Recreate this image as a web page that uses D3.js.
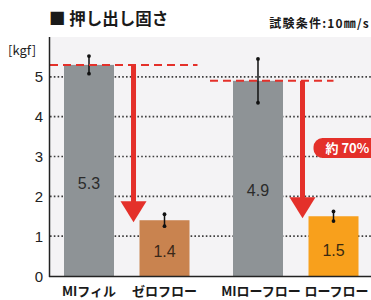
<!DOCTYPE html>
<html>
<head>
<meta charset="utf-8">
<script src="https://cdn.jsdelivr.net/npm/d3@7"></script>
<style>
  body { margin: 0; background: #fff; }
  svg { display: block; }
  text { font-family: "Noto Sans CJK JP", "Noto Sans", sans-serif; }
  .num { font-family: "Liberation Sans", Arial, sans-serif; }
</style>
</head>
<body>
<script>
const w = 371;
const h = 300;

// data
const groups = ['MI', 'Low'];
const categories = ['MIフィル', 'ゼロフロー', 'MIローフロー', 'ローフロー'];
const groupOf = [0, 0, 1, 1];
const values = [5.3, 1.4, 4.9, 1.5];
const errors = [0.22, 0.15, 0.55, 0.12];
const colors = ['#8e9396', '#c9834f', '#8e9396', '#f8a01c'];
const labelColors = ['#2b2b2b', '#3a2818', '#2b2b2b', '#3a2a10'];
const yTicks = [0, 1, 2, 3, 4, 5];
const gridTicks = [1, 2, 3, 4, 5];
const reduction = '約 70%';

const plotLeft = 50, plotTop = 37, plotBottom = 276;

const svg = d3.select('body').append('svg')
              .attr('width', w)
              .attr('height', h);

const yScale = d3.scaleLinear()
                 .domain([0, 6])
                 .range([plotBottom, plotTop]);

const xGroup = d3.scaleBand()
                 .domain(groups)
                 .range([42.25, 380.25]);

const xInner = d3.scaleBand()
                 .domain([0, 1])
                 .range([0, xGroup.bandwidth()])
                 .paddingInner(0.338)
                 .paddingOuter(0.288);

const barX = i => xGroup(groups[groupOf[i]]) + xInner(i % 2);
const barW = xInner.bandwidth();

// plot background
svg.append('rect')
   .attr('x', plotLeft)
   .attr('y', plotTop)
   .attr('width', w - plotLeft)
   .attr('height', plotBottom - plotTop)
   .attr('fill', '#f4f3f5');

// dotted grid
svg.append('g')
   .selectAll('line')
   .data(gridTicks)
   .enter()
   .append('line')
   .attr('x1', plotLeft)
   .attr('x2', w)
   .attr('y1', d => yScale(d))
   .attr('y2', d => yScale(d))
   .attr('stroke', '#3e3e3e')
   .attr('stroke-width', 1.6)
   .attr('stroke-dasharray', '1.6,2.2');

// bars
svg.append('g')
   .selectAll('rect')
   .data(values)
   .enter()
   .append('rect')
   .attr('x', (d, i) => barX(i))
   .attr('y', d => yScale(d))
   .attr('width', barW)
   .attr('height', d => plotBottom - yScale(d))
   .attr('fill', (d, i) => colors[i]);

// value labels in bars
svg.append('g')
   .selectAll('text')
   .data(values)
   .enter()
   .append('text')
   .attr('class', 'num')
   .attr('x', (d, i) => barX(i) + barW / 2)
   .attr('y', d => yScale(d) + (plotBottom - yScale(d)) * 0.56 + 6)
   .attr('text-anchor', 'middle')
   .attr('font-size', 16)
   .attr('fill', (d, i) => labelColors[i])
   .text(d => d.toFixed(1));

// error bars
const err = svg.append('g');
values.forEach((v, i) => {
  const cx = barX(i) + barW / 2;
  err.append('line')
     .attr('x1', cx).attr('x2', cx)
     .attr('y1', yScale(v + errors[i]))
     .attr('y2', yScale(v - errors[i]))
     .attr('stroke', '#111')
     .attr('stroke-width', 1.5);
  [v + errors[i], v - errors[i]].forEach(e => {
    err.append('circle')
       .attr('cx', cx)
       .attr('cy', yScale(e))
       .attr('r', 1.9)
       .attr('fill', '#111');
  });
});

// reference dashed lines and arrows
const red = '#e4302a';
[0, 2].forEach(i => {
  const y0 = yScale(values[i]);
  const x0 = i === 0 ? plotLeft : barX(i) - 23;
  const x1 = i === 0 ? barX(i + 1) + barW + 8 : barX(i + 1) + barW / 2;
  svg.append('line')
     .attr('x1', x0).attr('x2', x1)
     .attr('y1', y0).attr('y2', y0)
     .attr('stroke', red)
     .attr('stroke-width', 2)
     .attr('stroke-dasharray', '8,5');

  const ax = barX(i + 1) - 6;
  const tip = yScale(values[i + 1]) + 2;
  svg.append('line')
     .attr('x1', ax).attr('x2', ax)
     .attr('y1', y0).attr('y2', tip - 18)
     .attr('stroke', red)
     .attr('stroke-width', 5);
  svg.append('path')
     .attr('d', `M${ax - 13},${tip - 21} L${ax + 13},${tip - 21} L${ax},${tip} Z`)
     .attr('fill', red);
});

// reduction badge
const bx = barX(3) - 6 + 11;
svg.append('rect')
   .attr('x', bx)
   .attr('y', 138)
   .attr('width', 80)
   .attr('height', 20)
   .attr('rx', 9)
   .attr('fill', red);
svg.append('text')
   .attr('x', bx + 12)
   .attr('y', 153)
   .attr('font-size', 13)
   .attr('font-weight', 'bold')
   .attr('fill', '#fff')
   .text(reduction);

// axes
svg.append('line')
   .attr('x1', plotLeft - 0.5).attr('x2', plotLeft - 0.5)
   .attr('y1', plotTop).attr('y2', plotBottom + 1)
   .attr('stroke', '#222')
   .attr('stroke-width', 1.5);
svg.append('line')
   .attr('x1', plotLeft - 1).attr('x2', w)
   .attr('y1', plotBottom + 0.5).attr('y2', plotBottom + 0.5)
   .attr('stroke', '#222')
   .attr('stroke-width', 1.5);

svg.append('g')
   .selectAll('text')
   .data(yTicks)
   .enter()
   .append('text')
   .attr('class', 'num')
   .attr('x', 43)
   .attr('y', d => yScale(d) + 5.5)
   .attr('text-anchor', 'end')
   .attr('font-size', 15)
   .attr('fill', '#222')
   .text(d => d);

svg.append('g')
   .selectAll('text')
   .data(categories)
   .enter()
   .append('text')
   .attr('x', (d, i) => barX(i) + barW / 2 + (groupOf[i] ? 3 : 0))
   .attr('y', 296)
   .attr('text-anchor', 'middle')
   .attr('font-size', 13)
   .attr('font-weight', 'bold')
   .attr('fill', '#1a1a1a')
   .text(d => d);

// titles
svg.append('text')
   .attr('x', 8)
   .attr('y', 55)
   .attr('font-size', 13)
   .attr('fill', '#222')
   .text('[kgf]');

svg.append('text')
   .attr('x', 49)
   .attr('y', 25)
   .attr('font-size', 16.5)
   .attr('font-weight', 'bold')
   .attr('fill', '#1a1a1a')
   .text('■ 押し出し固さ');

svg.append('text')
   .attr('x', 370)
   .attr('y', 28)
   .attr('text-anchor', 'end')
   .attr('font-size', 12)
   .attr('letter-spacing', 1.2)
   .attr('font-weight', 'bold')
   .attr('fill', '#1a1a1a')
   .text('試験条件:10㎜/s');
</script>
</body>
</html>
